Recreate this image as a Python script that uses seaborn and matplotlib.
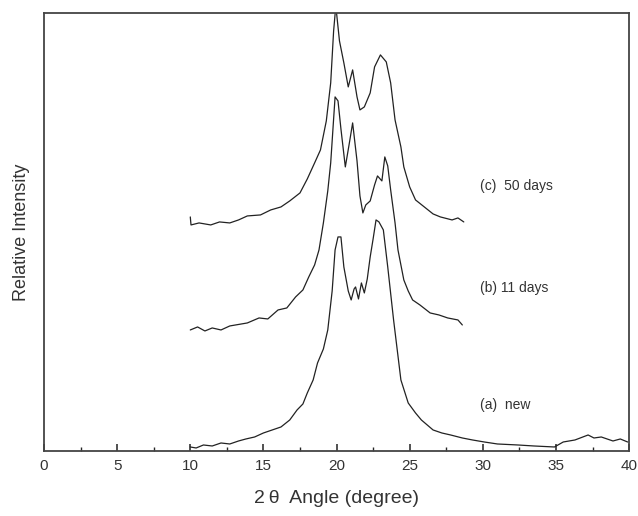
import numpy as np
import pandas as pd
import matplotlib
matplotlib.use('Agg')
import matplotlib.pyplot as plt
from matplotlib.ticker import MultipleLocator
import seaborn as sns

# Values (2theta in degrees, intensity in arbitrary units)
a_theta = [10.0, 10.4, 10.9, 11.5, 12.1, 12.7, 13.3, 13.8, 14.4, 15.0, 15.6, 16.2,
           16.8, 17.3, 17.7, 18.0, 18.4, 18.7, 19.1, 19.4, 19.7, 19.9, 20.1, 20.3,
           20.5, 20.8, 21.0, 21.2, 21.3, 21.5, 21.7, 21.9, 22.1, 22.3, 22.5, 22.7,
           22.9, 23.2, 23.5, 23.9, 24.2, 24.4, 24.9, 25.4, 25.8, 26.6, 27.2, 27.8,
           28.6, 29.3, 30.1, 31.0, 32.4, 33.5, 34.9, 35.5, 36.3, 37.2, 37.6, 38.1,
           38.9, 39.4, 39.9]
a_int = [4, 3, 6, 5, 8, 7, 10, 12, 14, 18, 21, 24,
         31, 41, 47, 58, 71, 88, 102, 121, 160, 201, 214, 214,
         184, 160, 151, 162, 164, 152, 168, 158, 172, 194, 212, 231,
         229, 221, 184, 131, 95, 71, 48, 38, 31, 21, 18, 16,
         13, 11, 9, 7, 6, 5, 4, 9, 11, 16, 13, 14,
         10, 12, 9]

b_theta = [10.0, 10.5, 11.0, 11.5, 12.1, 12.7, 13.1, 13.9, 14.7, 15.3, 16.0, 16.6,
           17.2, 17.7, 18.1, 18.5, 18.8, 19.1, 19.4, 19.6, 19.9, 20.1, 20.3, 20.6,
           20.9, 21.1, 21.4, 21.6, 21.8, 22.0, 22.3, 22.6, 22.8, 23.1, 23.3, 23.5,
           23.7, 24.0, 24.2, 24.6, 24.9, 25.2, 25.7, 26.4, 27.0, 27.6, 28.3, 28.6]
b_int = [121, 124, 120, 123, 121, 125, 126, 128, 133, 132, 141, 143,
         154, 161, 174, 186, 201, 228, 260, 288, 354, 350, 322, 284,
         310, 328, 290, 255, 238, 246, 250, 266, 275, 270, 294, 285,
         261, 228, 201, 171, 160, 151, 146, 138, 136, 133, 131, 126]

c_theta = [10.0, 10.05, 10.6, 11.4, 12.0, 12.7, 13.3, 13.9, 14.8, 15.5, 16.2, 16.8,
           17.5, 18.0, 18.5, 18.9, 19.3, 19.6, 19.8, 19.95, 20.2, 20.5, 20.8, 21.1,
           21.4, 21.6, 21.9, 22.3, 22.6, 23.0, 23.4, 23.7, 24.0, 24.4, 24.6, 25.0,
           25.4, 26.0, 26.6, 27.1, 27.9, 28.3, 28.7]
c_int = [234, 226, 228, 226, 229, 228, 231, 235, 236, 241, 244, 250,
         258, 272, 288, 301, 330, 368, 420, 445, 410, 388, 364, 381,
         354, 341, 344, 358, 384, 396, 389, 368, 331, 304, 284, 264,
         251, 244, 237, 234, 231, 233, 229]

labels = ['(a)  new', '(b) 11 days', '(c)  50 days']
label_x = [29.8, 29.8, 29.8]
label_y = [46, 163, 265]

sns.set_theme(style='white')
plt.rcParams['font.family'] = ['Liberation Sans', 'DejaVu Sans']

fig = plt.figure(figsize=(6.38, 5.16), dpi=100)
ax = fig.add_axes([0.069, 0.126, 0.917, 0.849])

for th, inten in [(a_theta, a_int), (b_theta, b_int), (c_theta, c_int)]:
    df = pd.DataFrame({'theta': th, 'intensity': inten})
    sns.lineplot(data=df, x='theta', y='intensity', ax=ax, color='#222222',
                 lw=0.9, sort=False, estimator=None)

for lab, lx, ly in zip(labels, label_x, label_y):
    ax.text(lx, ly, lab, fontsize=10, color='#333333', va='center', ha='left')

ax.set_xlim(0, 40)
ax.set_ylim(0, 438)
ax.xaxis.set_major_locator(MultipleLocator(5))
ax.xaxis.set_minor_locator(MultipleLocator(2.5))
ax.tick_params(axis='x', which='major', direction='in', length=5, width=1.2,
               labelsize=11, colors='#333333', bottom=True, pad=6)
ax.tick_params(axis='x', which='minor', direction='in', length=3, width=1.0,
               bottom=True)
ax.set_yticks([])
for s in ax.spines.values():
    s.set_color('#444444')
    s.set_linewidth(1.3)

ax.set_xlabel('2\u2009\u03b8  Angle (degree)', fontsize=14, color='#333333', labelpad=12)
ax.set_ylabel('Relative Intensity', fontsize=13, color='#333333', labelpad=10)

fig.savefig('out.png', dpi=100)
